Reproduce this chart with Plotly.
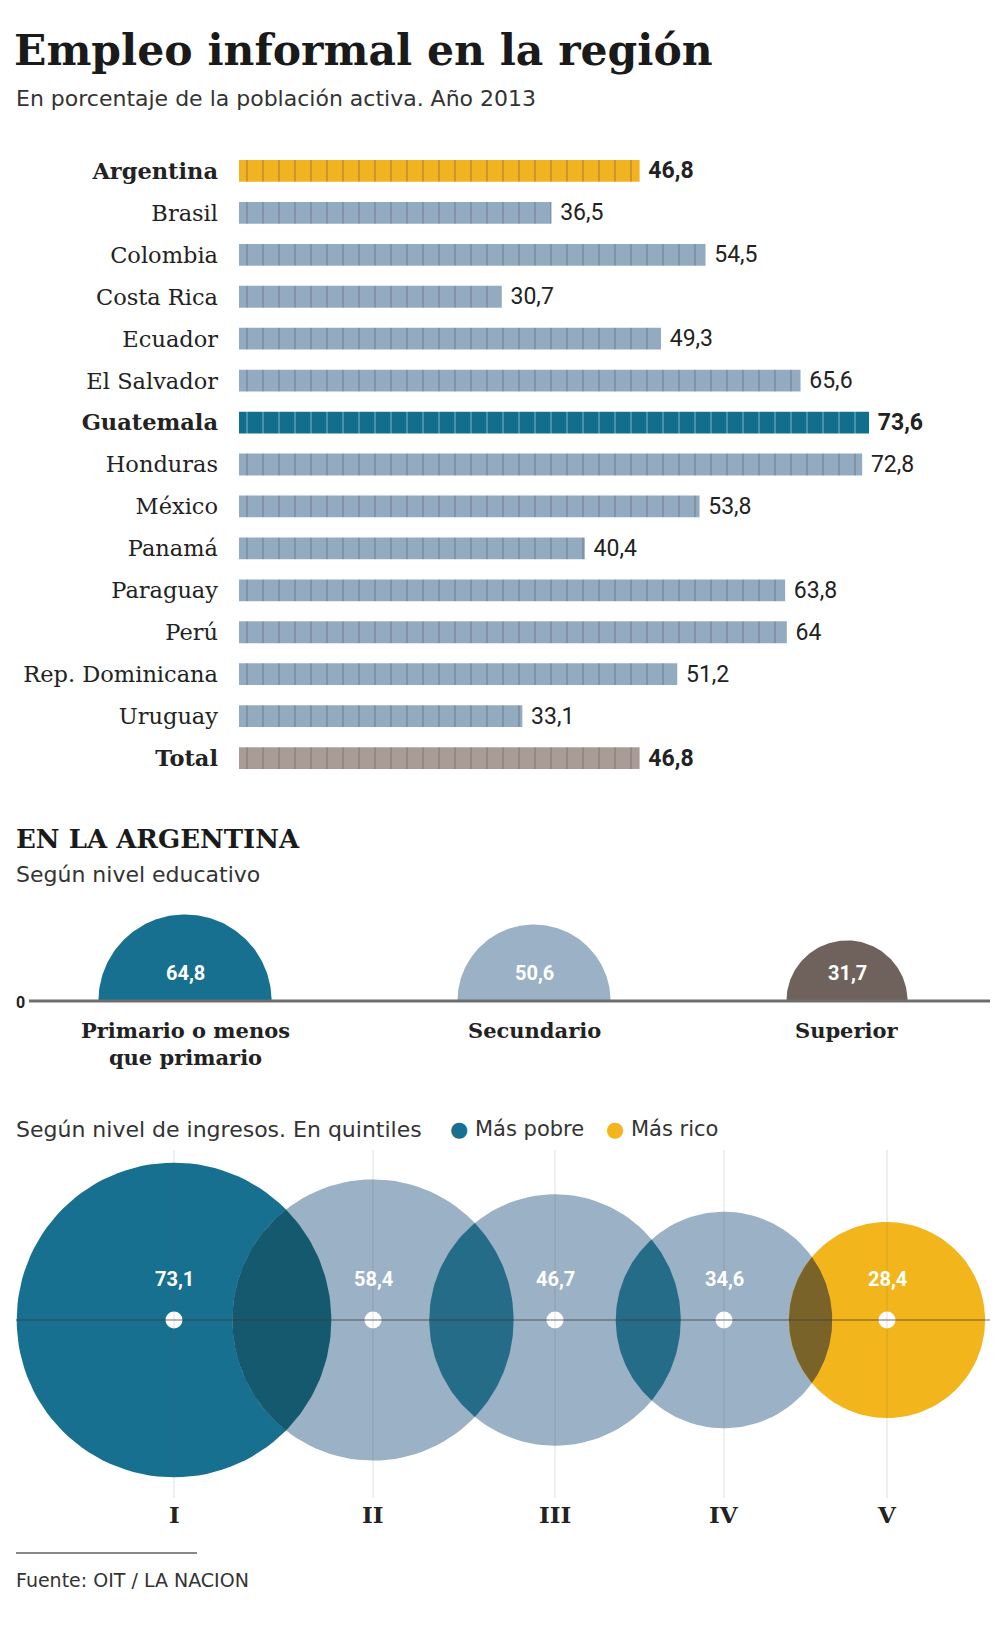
import math
import plotly.graph_objects as go

# ---------------- DATA ----------------
countries = ["Argentina", "Brasil", "Colombia", "Costa Rica", "Ecuador", "El Salvador",
             "Guatemala", "Honduras", "México", "Panamá", "Paraguay", "Perú",
             "Rep. Dominicana", "Uruguay", "Total"]
values = [46.8, 36.5, 54.5, 30.7, 49.3, 65.6, 73.6, 72.8, 53.8, 40.4, 63.8, 64, 51.2, 33.1, 46.8]
bold_rows = ["Argentina", "Guatemala", "Total"]

edu_levels = ["Primario o menos<br>que primario", "Secundario", "Superior"]
edu_values = [64.8, 50.6, 31.7]

quintiles = ["I", "II", "III", "IV", "V"]
quintile_values = [73.1, 58.4, 46.7, 34.6, 28.4]

# ---------------- STYLE / LAYOUT CONSTANTS ----------------
W, H = 1000, 1626
SERIF = "DejaVu Serif, serif"
SANS = "DejaVu Sans, sans-serif"
NUM = "Roboto, sans-serif"
C_ARG = "#F1B321"
C_BAR = "#93ABC1"
C_GUA = "#106E8E"
C_TOT = "#A99C97"
C_TEAL = "#17708F"
C_LIGHT = "#9BB1C5"
C_BROWN = "#6F625C"
C_YEL = "#F2B51C"
C_LENS = ["#15596F", "#256C89", "#256C89", "#7A6328"]


def fmt(v):
    return ("%g" % v).replace(".", ",")


def py(y):
    return 1 - y / H


bar_colors = []
for c in countries:
    if c == "Argentina":
        bar_colors.append(C_ARG)
    elif c == "Guatemala":
        bar_colors.append(C_GUA)
    elif c == "Total":
        bar_colors.append(C_TOT)
    else:
        bar_colors.append(C_BAR)

labels = [("<b>%s</b>" % fmt(v)) if c in bold_rows else fmt(v) for c, v in zip(countries, values)]
ticktext = [("<b>%s</b>" % c) if c in bold_rows else c for c in countries]

fig = go.Figure()

fig.add_trace(go.Bar(
    y=countries, x=values, orientation="h", width=0.52,
    marker=dict(color=bar_colors, line=dict(width=0),
                pattern=dict(shape="|", size=16, solidity=0.06, fgcolor="rgba(255,255,255,0.12)")),
    text=[" " + t for t in labels], textposition="outside", constraintext="none",
    textfont=dict(family=NUM, size=23, color="#222"), cliponaxis=False,
    hoverinfo="skip", xaxis="x", yaxis="y", showlegend=False,
))

# ---------------- bubble helpers (pixel-like axis x2/y2) ----------------
def circle_pts(cx, cy, r, a0=0, a1=2 * math.pi, n=120):
    xs, ys = [], []
    for i in range(n + 1):
        a = a0 + (a1 - a0) * i / n
        xs.append(cx + r * math.cos(a))
        ys.append(cy + r * math.sin(a))
    return xs, ys


def add_poly(xs, ys, color):
    fig.add_trace(go.Scatter(x=xs, y=ys, mode="lines", fill="toself", fillcolor=color,
                             line=dict(width=0, color=color), hoverinfo="skip",
                             showlegend=False, xaxis="x2", yaxis="y2"))


# Education semicircles
EDU_BASE = 1001
EDU_X = [185, 534, 847]
EDU_K = 86.6 / math.sqrt(64.8)
edu_colors = [C_TEAL, C_LIGHT, C_BROWN]
for cx, v, col in zip(EDU_X, edu_values, edu_colors):
    r = EDU_K * math.sqrt(v)
    xs, ys = circle_pts(cx, EDU_BASE, r, math.pi, 2 * math.pi)
    add_poly(xs, ys, col)

# Quintile circles
Q_Y = 1320
Q_X = [174, 373, 555, 724, 887]
Q_K = 18.4
q_r = [Q_K * math.sqrt(v) for v in quintile_values]
q_colors = [C_TEAL, C_LIGHT, C_LIGHT, C_LIGHT, C_YEL]
for cx, r, col in zip(Q_X, q_r, q_colors):
    xs, ys = circle_pts(cx, Q_Y, r)
    add_poly(xs, ys, col)

# overlaps (lenses)
for i in range(4):
    x1, r1, x2, r2 = Q_X[i], q_r[i], Q_X[i + 1], q_r[i + 1]
    d = x2 - x1
    a = (d * d + r1 * r1 - r2 * r2) / (2 * d)
    h = math.sqrt(max(r1 * r1 - a * a, 0))
    t1 = math.atan2(h, a)
    t2 = math.atan2(h, d - a)
    xa, ya = circle_pts(x1, Q_Y, r1, -t1, t1, 60)
    xb, yb = circle_pts(x2, Q_Y, r2, math.pi - t2, math.pi + t2, 60)
    add_poly(xa + xb, ya + yb, C_LENS[i])

# center dots
fig.add_trace(go.Scatter(x=Q_X, y=[Q_Y] * 5, mode="markers",
                         marker=dict(size=17, color="white", line=dict(width=0)),
                         hoverinfo="skip", showlegend=False, xaxis="x2", yaxis="y2"))

# ---------------- layout ----------------
shapes = []
shapes.append(dict(type="line", xref="x2", yref="y2", x0=29, x1=990, y0=EDU_BASE, y1=EDU_BASE,
                   line=dict(color="#6d6d6d", width=3), layer="above"))
for cx in Q_X:
    shapes.append(dict(type="line", xref="x2", yref="y2", x0=cx, x1=cx, y0=1150, y1=1498,
                       line=dict(color="rgba(90,90,90,0.2)", width=1), layer="above"))
shapes.append(dict(type="line", xref="x2", yref="y2", x0=16, x1=990, y0=Q_Y, y1=Q_Y,
                   line=dict(color="rgba(60,60,60,0.5)", width=1.5), layer="above"))
shapes.append(dict(type="line", xref="paper", yref="paper", x0=0.016, x1=0.197, y0=py(1553), y1=py(1553),
                   line=dict(color="#888", width=2)))

ann = []
ann.append(dict(text="<b>Empleo informal en la región</b>", x=0.012, y=py(50), xref="paper", yref="paper",
                xanchor="left", yanchor="middle", showarrow=False,
                font=dict(family=SERIF, size=42.5, color="#1a1a1a")))
ann.append(dict(text="En porcentaje de la población activa. Año 2013", x=0.014, y=py(99), xref="paper",
                yref="paper", xanchor="left", yanchor="middle", showarrow=False,
                font=dict(family=SANS, size=22, color="#333")))
ann.append(dict(text="<b>EN LA ARGENTINA</b>", x=0.014, y=py(839), xref="paper", yref="paper",
                xanchor="left", yanchor="middle", showarrow=False,
                font=dict(family=SERIF, size=26, color="#1a1a1a")))
ann.append(dict(text="Según nivel educativo", x=0.014, y=py(874), xref="paper", yref="paper",
                xanchor="left", yanchor="middle", showarrow=False,
                font=dict(family=SANS, size=22, color="#333")))
ann.append(dict(text="<b>0</b>", x=0.02, y=py(1002), xref="paper", yref="paper",
                xanchor="center", yanchor="middle", showarrow=False,
                font=dict(family=NUM, size=16, color="#222")))
for cx, v, lab in zip(EDU_X, edu_values, edu_levels):
    ann.append(dict(text="<b>%s</b>" % fmt(v), x=cx, y=973, xref="x2", yref="y2",
                    xanchor="center", yanchor="middle", showarrow=False,
                    font=dict(family=NUM, size=20, color="white")))
    ann.append(dict(text="<b>%s</b>" % lab, x=cx, y=1016, xref="x2", yref="y2",
                    xanchor="center", yanchor="top", showarrow=False,
                    font=dict(family=SERIF, size=21, color="#222")))
ann.append(dict(text="Según nivel de ingresos. En quintiles", x=0.014, y=py(1129), xref="paper",
                yref="paper", xanchor="left", yanchor="middle", showarrow=False,
                font=dict(family=SANS, size=22, color="#333")))
ann.append(dict(text="<span style='color:%s'>●</span> Más pobre" % C_TEAL, x=0.448, y=py(1129),
                xref="paper", yref="paper", xanchor="left", yanchor="middle", showarrow=False,
                font=dict(family=SANS, size=21, color="#333")))
ann.append(dict(text="<span style='color:%s'>●</span> Más rico" % C_YEL, x=0.604, y=py(1129),
                xref="paper", yref="paper", xanchor="left", yanchor="middle", showarrow=False,
                font=dict(family=SANS, size=21, color="#333")))
for cx, v, q in zip(Q_X, quintile_values, quintiles):
    ann.append(dict(text="<b>%s</b>" % fmt(v), x=cx, y=1279, xref="x2", yref="y2",
                    xanchor="center", yanchor="middle", showarrow=False,
                    font=dict(family=NUM, size=20, color="white")))
    ann.append(dict(text="<b>%s</b>" % q, x=cx, y=1514, xref="x2", yref="y2",
                    xanchor="center", yanchor="middle", showarrow=False,
                    font=dict(family=SERIF, size=23, color="#222")))
ann.append(dict(text="Fuente: OIT / LA NACION", x=0.014, y=py(1580), xref="paper", yref="paper",
                xanchor="left", yanchor="middle", showarrow=False,
                font=dict(family=SANS, size=19, color="#333")))

fig.update_layout(
    width=W, height=H, margin=dict(l=0, r=0, t=0, b=0),
    paper_bgcolor="white", plot_bgcolor="rgba(0,0,0,0)",
    showlegend=False,
    xaxis=dict(domain=[0.239, 0.99], range=[0, 751 / 8.56], visible=False, fixedrange=True),
    yaxis=dict(domain=[py(779), py(150)], type="category", autorange="reversed",
               tickvals=countries, ticktext=ticktext, showgrid=False, showline=False, ticks="",
               ticklabelstandoff=20, tickfont=dict(family=SERIF, size=22.5, color="#222"), fixedrange=True),
    xaxis2=dict(domain=[0, 1], range=[0, W], visible=False, anchor="y2", fixedrange=True),
    yaxis2=dict(domain=[0, 0.5], range=[H, H / 2], visible=False, anchor="x2", fixedrange=True),
    shapes=shapes, annotations=ann,
)

fig.write_html("out.html")
